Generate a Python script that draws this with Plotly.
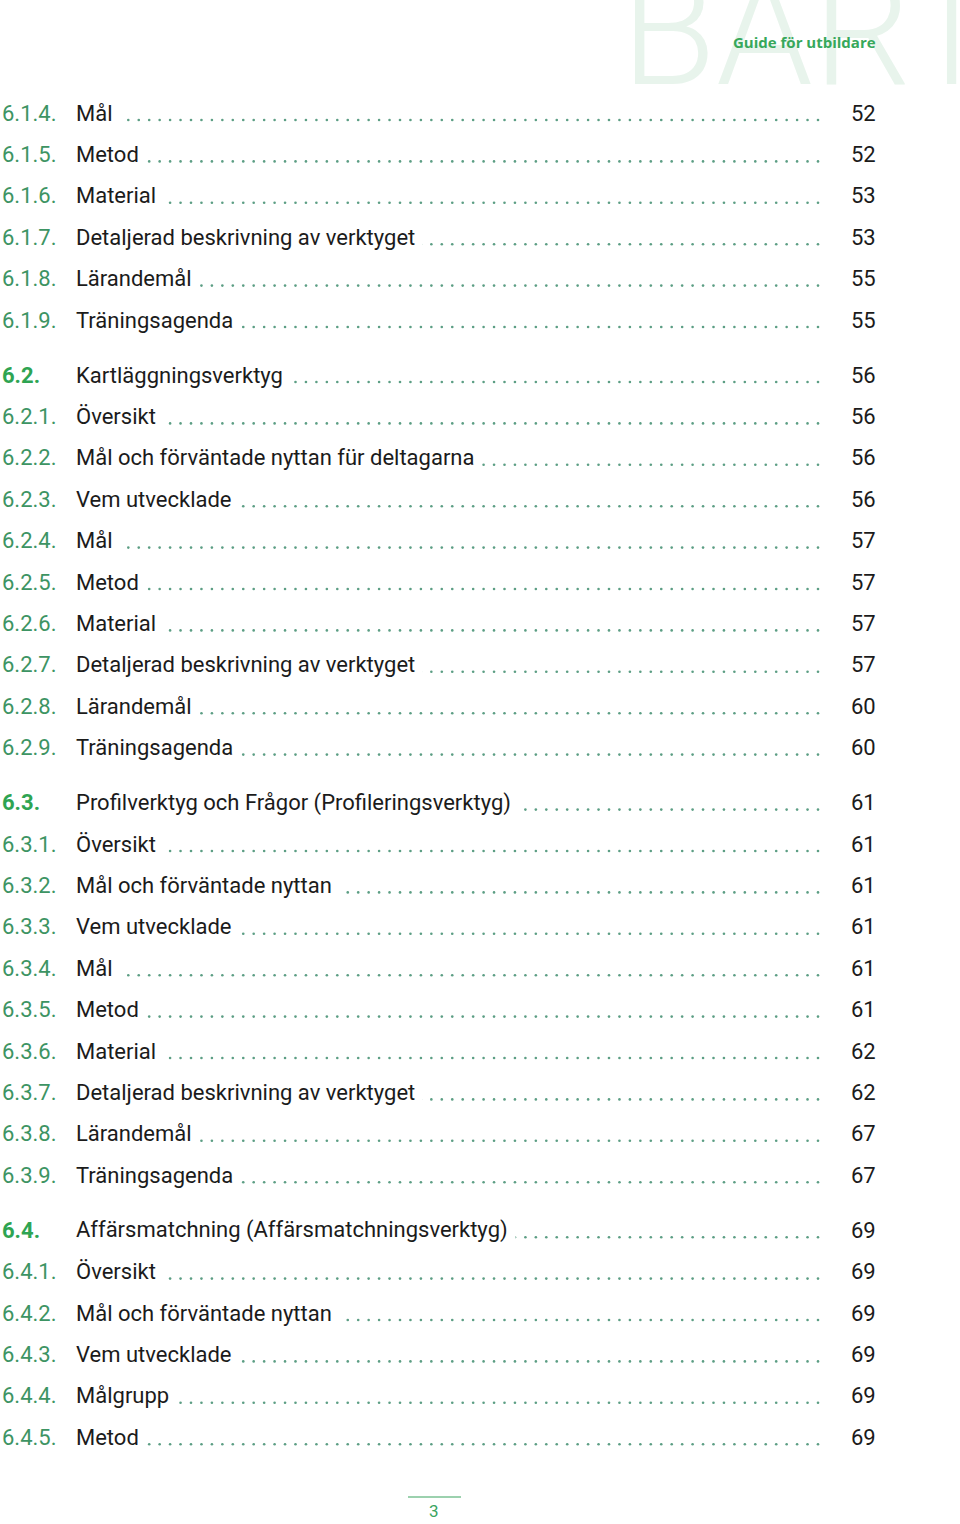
import plotly.graph_objects as go

numbers = ["6.1.4.", "6.1.5.", "6.1.6.", "6.1.7.", "6.1.8.", "6.1.9.",
           "6.2.", "6.2.1.", "6.2.2.", "6.2.3.", "6.2.4.", "6.2.5.", "6.2.6.", "6.2.7.", "6.2.8.", "6.2.9.",
           "6.3.", "6.3.1.", "6.3.2.", "6.3.3.", "6.3.4.", "6.3.5.", "6.3.6.", "6.3.7.", "6.3.8.", "6.3.9.",
           "6.4.", "6.4.1.", "6.4.2.", "6.4.3.", "6.4.4.", "6.4.5."]
titles = ["Mål", "Metod", "Material", "Detaljerad beskrivning av verktyget", "Lärandemål", "Träningsagenda",
          "Kartläggningsverktyg", "Översikt", "Mål och förväntade nyttan für deltagarna", "Vem utvecklade", "Mål",
          "Metod", "Material", "Detaljerad beskrivning av verktyget", "Lärandemål", "Träningsagenda",
          "Profilverktyg och Frågor (Profileringsverktyg)", "Översikt", "Mål och förväntade nyttan", "Vem utvecklade",
          "Mål", "Metod", "Material", "Detaljerad beskrivning av verktyget", "Lärandemål", "Träningsagenda",
          "Affärsmatchning (Affärsmatchningsverktyg)", "Översikt", "Mål och förväntade nyttan", "Vem utvecklade",
          "Målgrupp", "Metod"]
pages = ["52", "52", "53", "53", "55", "55",
         "56", "56", "56", "56", "57", "57", "57", "57", "60", "60",
         "61", "61", "61", "61", "61", "61", "62", "62", "67", "67",
         "69", "69", "69", "69", "69", "69"]
header_text = "Guide för utbildare"
watermark_text = "BART"
page_number = "3"

FONT = "Roboto"
SIZE = 22
GREEN = "#3d9463"
BRIGHT = "#2ea452"
DOT = "#5c9e84"
TEXT = "#1b1b1b"

def is_heading(n):
    return n.count(".") == 2

# row positions
ys = []
y = 113.0
for i, n in enumerate(numbers):
    if i > 0:
        y += 55.0 if is_heading(n) else 41.4
    ys.append(y)

fig = go.Figure()

# dotted leaders
dx, dy = [], []
for yy in ys:
    x = 818.0
    while x > 80:
        dx.append(x)
        dy.append(yy + 7)
        x -= 10.45
fig.add_trace(go.Scatter(x=dx, y=dy, mode="markers",
                         marker=dict(size=2.6, color=DOT), hoverinfo="skip", showlegend=False))

ann = []
pad = 7
# watermark (drawn first so the header sits on top)
ann.append(dict(x=619, y=124, text=watermark_text, xanchor="left", yanchor="bottom",
                showarrow=False,
                font=dict(family=FONT, size=155, color="#e8f4ec", weight=300)))
for n, t, p, yy in zip(numbers, titles, pages, ys):
    h = is_heading(n)
    ann.append(dict(x=0, y=yy, text=n, xanchor="left", yanchor="middle", showarrow=False,
                    font=dict(family=FONT, size=SIZE, color=BRIGHT if h else GREEN,
                              weight="bold" if h else "normal")))
    ann.append(dict(x=75 - pad, y=yy, text=t, xanchor="left", yanchor="middle", showarrow=False,
                    bgcolor="white", borderpad=pad,
                    font=dict(family=FONT, size=SIZE, color=TEXT)))
    ann.append(dict(x=849, y=yy, text=p, xanchor="left", yanchor="middle", showarrow=False,
                    font=dict(family=FONT, size=SIZE, color=TEXT)))

# header
ann.append(dict(x=878, y=42, text=header_text, xanchor="right", yanchor="middle", showarrow=False,
                font=dict(family="Open Sans", size=15, color="#37a85b", weight="bold")))
# page number
ann.append(dict(x=434, y=1511, text=page_number, xanchor="center", yanchor="middle", showarrow=False,
                font=dict(family=FONT, size=17, color="#3aa45f")))

fig.update_layout(
    width=960, height=1524, margin=dict(l=0, r=0, t=0, b=0),
    paper_bgcolor="white", plot_bgcolor="white",
    xaxis=dict(range=[0, 960], visible=False, fixedrange=True),
    yaxis=dict(range=[1524, 0], visible=False, fixedrange=True),
    annotations=ann,
    shapes=[dict(type="line", x0=408, x1=461, y0=1497, y1=1497, line=dict(color="#3aa45f", width=1.2))],
)

fig.write_html("out.html", config={"displayModeBar": False},
               post_script="document.body.style.margin='0';document.body.style.overflow='hidden';")
